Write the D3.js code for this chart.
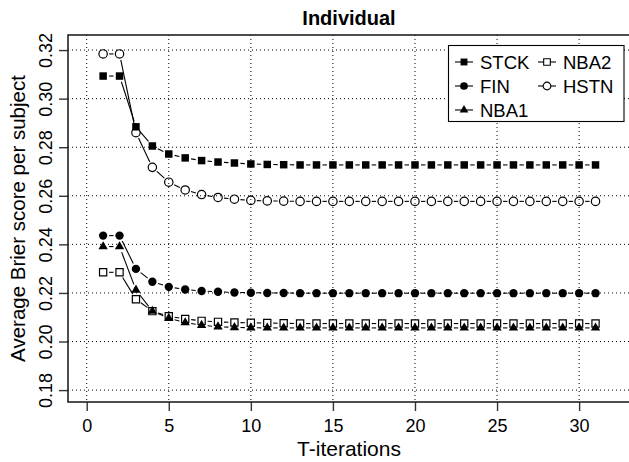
<!DOCTYPE html>
<html>
<head>
<meta charset="utf-8">
<script src="https://cdn.jsdelivr.net/npm/d3@7"></script>
<style>
    body { margin: 0; background: #fff; }
    text { font-family: "Liberation Sans", Arial, Helvetica, sans-serif; fill: #000; }
    .grid line { stroke: #000; stroke-width: 1; stroke-dasharray: 1,3; }
    .axis path { display: none; }
    .axis line { stroke: #333; stroke-width: 1.4; }
</style>
</head>
<body>
<div id="chart"></div>
<script>
// data
const iterations = d3.range(1, 32);
const stck = [0.3093, 0.3093, 0.2884, 0.2805, 0.2772, 0.2756, 0.2745, 0.2739, 0.2735, 0.2731, 0.2729, 0.2728, 0.2727, 0.2727, 0.2727, 0.2727, 0.2727, 0.2727, 0.2727, 0.2727, 0.2727, 0.2727, 0.2727, 0.2727, 0.2727, 0.2727, 0.2727, 0.2727, 0.2727, 0.2727, 0.2727];
const fin = [0.2436, 0.2436, 0.2299, 0.2246, 0.2225, 0.2214, 0.2208, 0.2205, 0.2202, 0.2201, 0.2200, 0.2200, 0.2199, 0.2199, 0.2199, 0.2199, 0.2199, 0.2199, 0.2199, 0.2199, 0.2199, 0.2199, 0.2199, 0.2199, 0.2199, 0.2199, 0.2199, 0.2199, 0.2199, 0.2199, 0.2199];
const nba1 = [0.2391, 0.2391, 0.2212, 0.2125, 0.2096, 0.2078, 0.2067, 0.2061, 0.2058, 0.2057, 0.2056, 0.2056, 0.2056, 0.2056, 0.2056, 0.2056, 0.2056, 0.2056, 0.2056, 0.2056, 0.2056, 0.2056, 0.2056, 0.2056, 0.2056, 0.2056, 0.2056, 0.2056, 0.2056, 0.2056, 0.2056];
const nba2 = [0.2285, 0.2285, 0.2174, 0.2125, 0.2104, 0.2093, 0.2085, 0.2081, 0.2078, 0.2077, 0.2076, 0.2075, 0.2074, 0.2074, 0.2074, 0.2074, 0.2074, 0.2074, 0.2074, 0.2074, 0.2074, 0.2074, 0.2074, 0.2074, 0.2074, 0.2074, 0.2074, 0.2074, 0.2074, 0.2074, 0.2074];
const hstn = [0.3184, 0.3184, 0.2860, 0.2717, 0.2656, 0.2624, 0.2605, 0.2593, 0.2586, 0.2581, 0.2579, 0.2578, 0.2577, 0.2577, 0.2577, 0.2577, 0.2577, 0.2577, 0.2577, 0.2577, 0.2577, 0.2577, 0.2577, 0.2577, 0.2577, 0.2577, 0.2577, 0.2577, 0.2577, 0.2577, 0.2577];
const xTicks = [0, 5, 10, 15, 20, 25, 30];
const yTicks = [0.18, 0.20, 0.22, 0.24, 0.26, 0.28, 0.30, 0.32];

function drawChart() {
    const W = 629, H = 462;
    const plot = {left: 68, top: 35, right: 630, bottom: 402};

    const svg = d3.select("#chart").append("svg")
        .attr("width", W)
        .attr("height", H);

    const x = d3.scaleLinear().domain([-1.14, 33.1]).range([plot.left, plot.right]);
    const y = d3.scaleLinear().domain([0.1751, 0.3262]).range([plot.bottom, plot.top]);

    // dotted grid
    const grid = svg.append("g").attr("class", "grid");
    grid.selectAll(".vg").data(xTicks).join("line")
        .attr("x1", d => x(d)).attr("x2", d => x(d))
        .attr("y1", plot.top).attr("y2", plot.bottom);
    grid.selectAll(".hg").data(yTicks).join("line")
        .attr("x1", plot.left).attr("x2", plot.right)
        .attr("y1", d => y(d)).attr("y2", d => y(d));

    // axes
    const xAxis = svg.append("g")
        .attr("class", "axis")
        .attr("transform", `translate(0, ${plot.bottom})`)
        .call(d3.axisBottom(x).tickValues(xTicks).tickSize(9).tickPadding(4).tickFormat(d3.format("d")));
    xAxis.selectAll("text").style("font-size", "18px").attr("dy", "0.93em");

    const yAxis = svg.append("g")
        .attr("class", "axis")
        .attr("transform", `translate(${plot.left}, 0)`)
        .call(d3.axisLeft(y).tickValues(yTicks).tickSize(9).tickFormat(d3.format(".2f")));
    yAxis.selectAll("text").remove();
    yAxis.selectAll(".tick").append("text")
        .attr("transform", "translate(-16, 0) rotate(-90)")
        .attr("text-anchor", "middle")
        .style("font-size", "18px")
        .text(d => d3.format(".2f")(d));

    // frame
    svg.append("rect")
        .attr("x", plot.left).attr("y", plot.top)
        .attr("width", plot.right - plot.left).attr("height", plot.bottom - plot.top)
        .attr("fill", "none").attr("stroke", "#222").attr("stroke-width", 1.6);

    const series = [
        {name: "STCK", values: stck, shape: d3.symbolSquare, size: 56, filled: true},
        {name: "FIN", values: fin, shape: d3.symbolCircle, size: 55, filled: true},
        {name: "NBA1", values: nba1, shape: d3.symbolTriangle, size: 38, filled: true},
        {name: "NBA2", values: nba2, shape: d3.symbolSquare, size: 52, filled: false},
        {name: "HSTN", values: hstn, shape: d3.symbolCircle, size: 55, filled: false}
    ];

    const gap = 6; // type="b" style gap around points
    series.forEach(s => {
        const pts = iterations.map((t, i) => [x(t), y(s.values[i])]);
        const segs = d3.pairs(pts).map(([a, b]) => {
            const dx = b[0] - a[0], dy = b[1] - a[1];
            const len = Math.hypot(dx, dy);
            const ux = dx / len, uy = dy / len;
            return [a[0] + ux * gap, a[1] + uy * gap, b[0] - ux * gap, b[1] - uy * gap];
        });
        const g = svg.append("g");
        g.selectAll("line").data(segs).join("line")
            .attr("x1", d => d[0]).attr("y1", d => d[1])
            .attr("x2", d => d[2]).attr("y2", d => d[3])
            .attr("stroke", "#000").attr("stroke-width", 1.1);
        g.selectAll("path").data(pts).join("path")
            .attr("transform", d => `translate(${d[0]}, ${d[1]})`)
            .attr("d", d3.symbol().type(s.shape).size(s.size))
            .attr("fill", s.filled ? "#000" : "none")
            .attr("stroke", "#000")
            .attr("stroke-width", s.filled ? 0 : 1.2);
    });

    // legend
    const legend = svg.append("g");
    legend.append("rect")
        .attr("x", 448.5).attr("y", 45.5).attr("width", 175.5).attr("height", 76)
        .attr("fill", "#fff").attr("stroke", "#000").attr("stroke-width", 1.1);
    const legendPos = [[464, 62], [464, 86], [464, 110], [547, 62], [547, 86]];
    series.forEach((s, i) => {
        const [lx, ly] = legendPos[i];
        legend.append("line")
            .attr("x1", lx - 9).attr("x2", lx + 9).attr("y1", ly).attr("y2", ly)
            .attr("stroke", "#000").attr("stroke-width", 1.1);
        legend.append("path")
            .attr("transform", `translate(${lx}, ${ly})`)
            .attr("d", d3.symbol().type(s.shape).size(s.size * 0.85))
            .attr("fill", s.filled ? "#000" : "#fff")
            .attr("stroke", "#000")
            .attr("stroke-width", s.filled ? 0 : 1.1);
        legend.append("text")
            .attr("x", lx + 16).attr("y", ly + 7)
            .style("font-size", "18.5px")
            .text(s.name);
    });

    // titles
    const cx = (plot.left + plot.right) / 2;
    svg.append("text")
        .attr("x", cx).attr("y", 25)
        .attr("text-anchor", "middle")
        .style("font-size", "20px").style("font-weight", "bold")
        .text("Individual");
    svg.append("text")
        .attr("x", cx).attr("y", 456)
        .attr("text-anchor", "middle")
        .style("font-size", "21px")
        .text("T-iterations");
    svg.append("text")
        .attr("transform", `translate(25, ${(plot.top + plot.bottom) / 2}) rotate(-90)`)
        .attr("text-anchor", "middle")
        .style("font-size", "20.5px")
        .text("Average Brier score per subject");
}

drawChart();
</script>
</body>
</html>
